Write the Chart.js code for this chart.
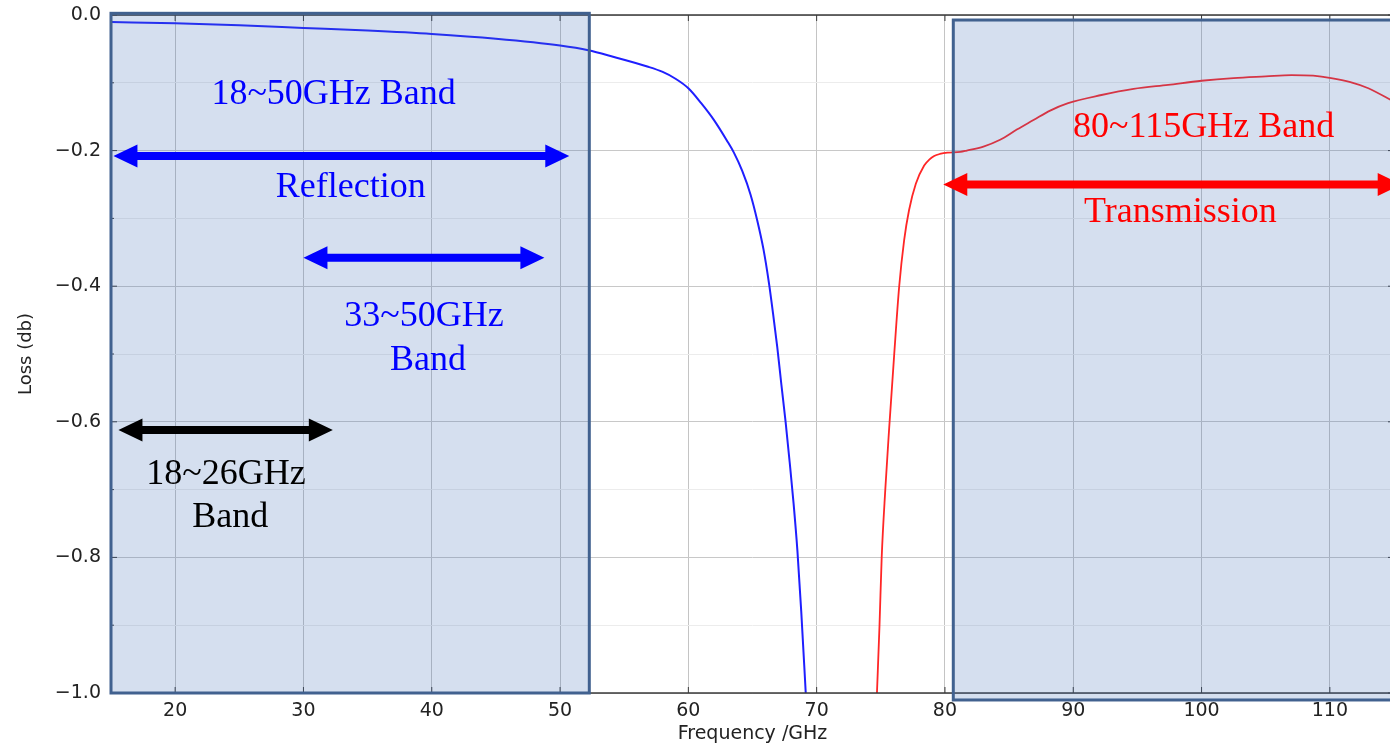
<!DOCTYPE html>
<html>
<head>
<meta charset="utf-8">
<script src="https://cdn.jsdelivr.net/npm/chart.js@4.4.1/dist/chart.umd.min.js"></script>
<style>
  html, body { margin: 0; padding: 0; background: #fff; overflow: hidden; }
  #wrap { width: 1400px; height: 745px; }
</style>
</head>
<body>
<div id="wrap"><canvas id="chart" width="1400" height="745"></canvas></div>
<script>
// reflection loss (blue)
const reflFreq = [15, 20, 25, 30, 35, 40, 45, 50, 52.2, 54.2, 56.8, 58, 59, 60, 61, 62, 63, 63.55, 64.2, 64.85, 65.37, 65.85, 66.28, 66.6, 66.93, 67.25, 67.58, 67.9, 68.2, 68.5, 68.8, 69.15];
const reflLoss = [-0.0105, -0.012, -0.015, -0.019, -0.023, -0.028, -0.035, -0.045, -0.052, -0.062, -0.076, -0.084, -0.094, -0.108, -0.13, -0.155, -0.185, -0.203, -0.23, -0.265, -0.303, -0.345, -0.395, -0.44, -0.49, -0.545, -0.6, -0.66, -0.72, -0.79, -0.88, -1.0];

// transmission loss (red)
const transFreq = [74.7, 74.9, 75.07, 75.35, 75.64, 76.04, 76.43, 76.82, 77.2, 77.73, 78.38, 78.8, 79.16, 79.6, 80.2, 81.2, 81.7, 83.0, 84.3, 85.6, 86.9, 88.2, 89.6, 92.2, 94.7, 97.4, 100, 102.5, 105, 107, 108.7, 110.1, 111.6, 113, 115];
const transLoss = [-1.0, -0.9, -0.8, -0.7, -0.613, -0.502, -0.401, -0.332, -0.288, -0.249, -0.222, -0.213, -0.208, -0.205, -0.203, -0.202, -0.2, -0.194, -0.184, -0.169, -0.155, -0.141, -0.13, -0.118, -0.109, -0.103, -0.097, -0.093, -0.0905, -0.0886, -0.0895, -0.093, -0.099, -0.108, -0.128];

const xTicks = [20, 30, 40, 50, 60, 70, 80, 90, 100, 110];

// shaded bands
const bandStart = [15, 80.65];
const bandEnd = [52.28, 116];
const bandTop = [0.0025, -0.0074];
const bandBottom = [-1.0, -1.0103];

// double-headed arrows
const arrowFrom = [15.19, 30.0, 15.58, 79.87];
const arrowTo = [50.72, 48.78, 32.29, 115.6];
const arrowAt = [-0.208, -0.358, -0.612, -0.25];
const arrowColor = ['#0000ff', '#0000ff', '#000000', '#ff0000'];

// band notes
const noteText = ['18~50GHz Band', 'Reflection', '33~50GHz', 'Band', '18~26GHz', 'Band', '80~115GHz Band', 'Transmission'];
const noteX = [32.35, 33.68, 39.4, 39.71, 23.97, 24.29, 100.16, 98.35];
const noteY = [-0.131, -0.269, -0.459, -0.524, -0.692, -0.755, -0.1795, -0.306];
const noteColor = ['#0000ff', '#0000ff', '#0000ff', '#0000ff', '#000000', '#000000', '#ff0000', '#ff0000'];

function drawArrow(ctx, x1, x2, yy, color) {
  const head = 24, half = 11.5, shaft = 4;
  ctx.fillStyle = color;
  ctx.beginPath();
  ctx.moveTo(x1, yy);
  ctx.lineTo(x1 + head, yy - half);
  ctx.lineTo(x1 + head, yy - shaft);
  ctx.lineTo(x2 - head, yy - shaft);
  ctx.lineTo(x2 - head, yy - half);
  ctx.lineTo(x2, yy);
  ctx.lineTo(x2 - head, yy + half);
  ctx.lineTo(x2 - head, yy + shaft);
  ctx.lineTo(x1 + head, yy + shaft);
  ctx.lineTo(x1 + head, yy + half);
  ctx.closePath();
  ctx.fill();
}

const overlay = {
  id: 'overlay',
  afterDatasetsDraw(chart) {
    const { ctx, chartArea: a, scales: { x, y } } = chart;
    ctx.save();
    // frame and inward tick marks
    ctx.strokeStyle = '#3a3a3a';
    ctx.lineWidth = 1.5;
    ctx.strokeRect(a.left, a.top, a.right - a.left, a.bottom - a.top);
    ctx.lineWidth = 1;
    ctx.beginPath();
    x.ticks.forEach(t => {
      const px = x.getPixelForValue(t.value);
      ctx.moveTo(px, a.top); ctx.lineTo(px, a.top + 6);
      ctx.moveTo(px, a.bottom); ctx.lineTo(px, a.bottom - 6);
    });
    y.ticks.forEach(t => {
      const py = y.getPixelForValue(t.value);
      const len = Math.round(t.value * 10) % 2 === 0 ? 6 : 3;
      ctx.moveTo(a.left, py); ctx.lineTo(a.left + len, py);
      ctx.moveTo(a.right, py); ctx.lineTo(a.right - len, py);
    });
    ctx.stroke();
    ctx.restore();
  },
  afterDraw(chart) {
    const { ctx, scales: { x, y } } = chart;
    ctx.save();
    // translucent bands over the plot
    for (let i = 0; i < bandStart.length; i++) {
      const x1 = x.getPixelForValue(bandStart[i]);
      const x2 = x.getPixelForValue(bandEnd[i]);
      const y1 = y.getPixelForValue(bandTop[i]);
      const y2 = y.getPixelForValue(bandBottom[i]);
      ctx.fillStyle = 'rgba(65,110,180,0.22)';
      ctx.fillRect(x1, y1, x2 - x1, y2 - y1);
      ctx.strokeStyle = '#41618f';
      ctx.lineWidth = 3;
      ctx.strokeRect(x1, y1, x2 - x1, y2 - y1);
    }
    for (let i = 0; i < arrowFrom.length; i++) {
      drawArrow(ctx, x.getPixelForValue(arrowFrom[i]), x.getPixelForValue(arrowTo[i]),
        y.getPixelForValue(arrowAt[i]), arrowColor[i]);
    }
    ctx.font = '36px "Liberation Serif"';
    ctx.textAlign = 'center';
    ctx.textBaseline = 'alphabetic';
    for (let i = 0; i < noteText.length; i++) {
      ctx.fillStyle = noteColor[i];
      ctx.fillText(noteText[i], x.getPixelForValue(noteX[i]), y.getPixelForValue(noteY[i]));
    }
    ctx.restore();
  }
};

const tickFont = { family: 'DejaVu Sans', size: 19 };

new Chart(document.getElementById('chart'), {
  type: 'line',
  data: {
    datasets: [
      {
        data: reflFreq.map((f, i) => ({ x: f, y: reflLoss[i] })),
        borderColor: '#1f1fff',
        borderWidth: 2,
        pointRadius: 0,
        cubicInterpolationMode: 'monotone',
        fill: false
      },
      {
        data: transFreq.map((f, i) => ({ x: f, y: transLoss[i] })),
        borderColor: '#ff2626',
        borderWidth: 1.8,
        pointRadius: 0,
        cubicInterpolationMode: 'monotone',
        fill: false
      }
    ]
  },
  options: {
    responsive: false,
    animation: false,
    layout: { padding: { top: 15, right: 6, left: 0, bottom: 0 } },
    plugins: { legend: { display: false }, tooltip: { enabled: false } },
    scales: {
      x: {
        type: 'linear',
        min: 15,
        max: 115,
        afterBuildTicks: s => { s.ticks = xTicks.map(v => ({ value: v })); },
        ticks: { padding: 7, color: '#222', font: tickFont },
        grid: { color: '#c4c4c4', drawTicks: false },
        border: { display: false },
        title: { display: true, text: 'Frequency /GHz', color: '#222', font: tickFont, padding: { top: 0, bottom: 0 } },
        afterFit: s => { s.height = 52; s.paddingLeft = 0; s.paddingRight = 0; }
      },
      y: {
        min: -1,
        max: 0,
        ticks: {
          stepSize: 0.1,
          padding: 10,
          color: '#222',
          font: tickFont,
          callback: v => {
            const n = Math.round(v * 10);
            if (n % 2 !== 0) return '';
            return (n < 0 ? '\u2212' : '') + Math.abs(n / 10).toFixed(1);
          }
        },
        grid: {
          color: c => Math.round(c.tick.value * 10) % 2 === 0 ? '#c8c8c8' : '#ececec',
          drawTicks: false
        },
        border: { display: false },
        title: { display: true, text: 'Loss (db)', color: '#222', font: { family: 'DejaVu Sans', size: 18 }, padding: { top: 16, bottom: 0 } },
        afterFit: s => { s.width = 111; s.paddingTop = 0; s.paddingBottom = 0; }
      }
    }
  },
  plugins: [overlay]
});
</script>
</body>
</html>
